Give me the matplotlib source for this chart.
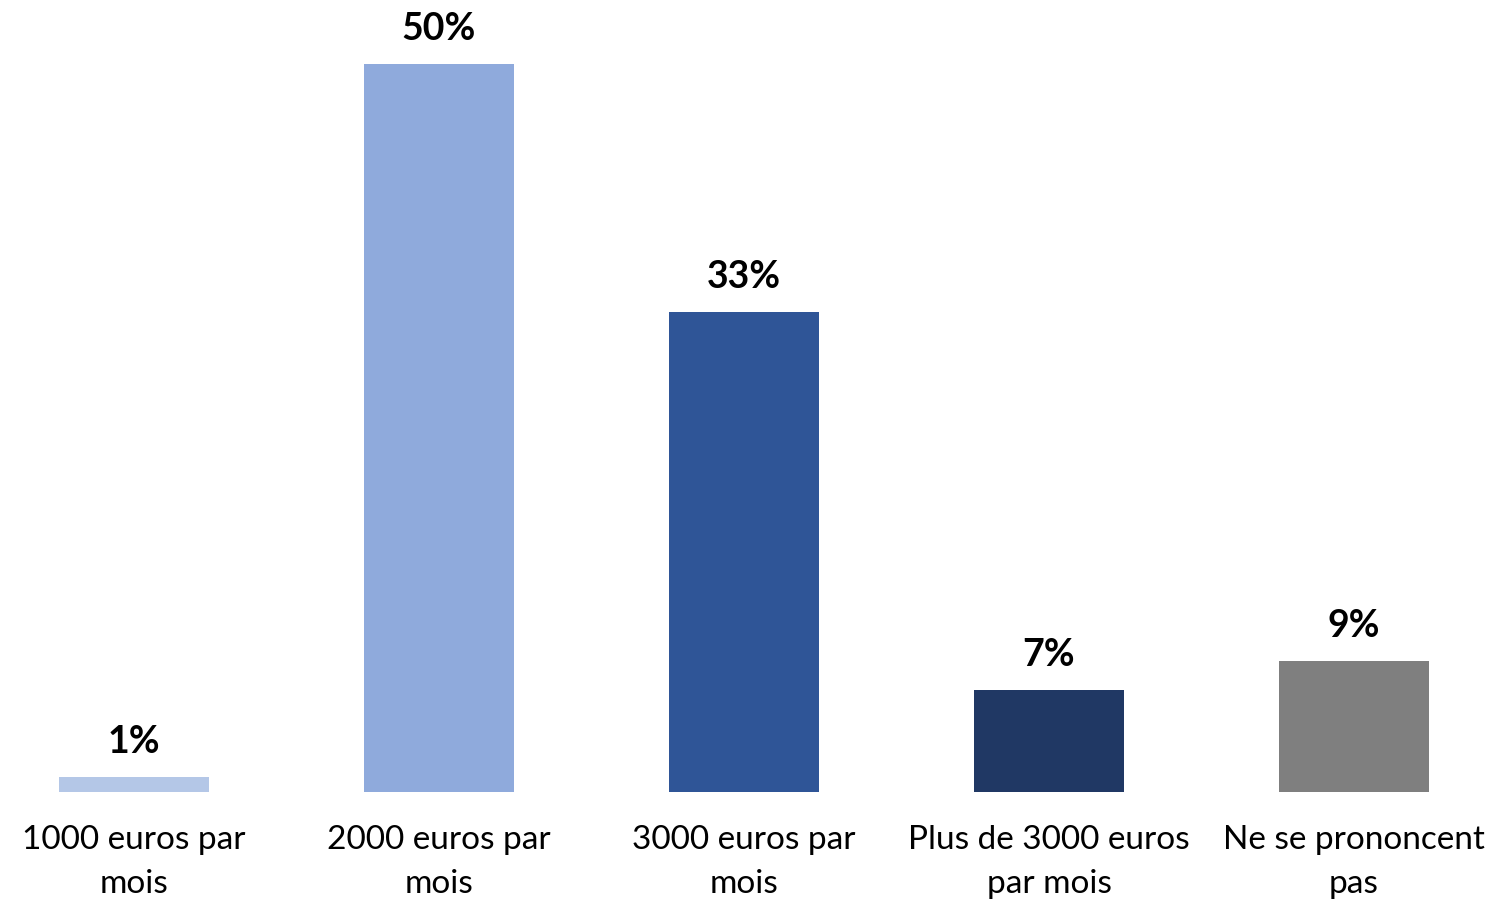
import matplotlib.pyplot as plt

categories = ["1000 euros par\nmois", "2000 euros par\nmois", "3000 euros par\nmois",
              "Plus de 3000 euros\npar mois", "Ne se prononcent\npas"]
values = [1, 50, 33, 7, 9]
colors = ["#B4C7E7", "#8FAADC", "#2F5597", "#203864", "#7F7F7F"]

plt.rcParams["font.family"] = ["Lato", "DejaVu Sans"]

fig = plt.figure(figsize=(14.98, 9.06), dpi=100)
ax = fig.add_axes([0, 114 / 906, 1, 786 / 906])

x = list(range(len(values)))
bars = ax.bar(x, values, width=0.49, color=colors)
for b, v in zip(bars, values):
    ax.annotate(f"{v}%", (b.get_x() + b.get_width() / 2, v), xytext=(0, 13),
                textcoords="offset points", ha="center", va="bottom",
                fontsize=27, fontweight="bold")

ax.set_xlim(-134 / 305, (1498 - 134) / 305)
ax.set_ylim(0, 54)
ax.set_xticks(x)
ax.set_xticklabels(categories, fontsize=24, linespacing=1.55)
ax.tick_params(axis="x", length=0, pad=24)
ax.set_yticks([])
for s in ax.spines.values():
    s.set_visible(False)

fig.savefig("out.png", dpi=100)
